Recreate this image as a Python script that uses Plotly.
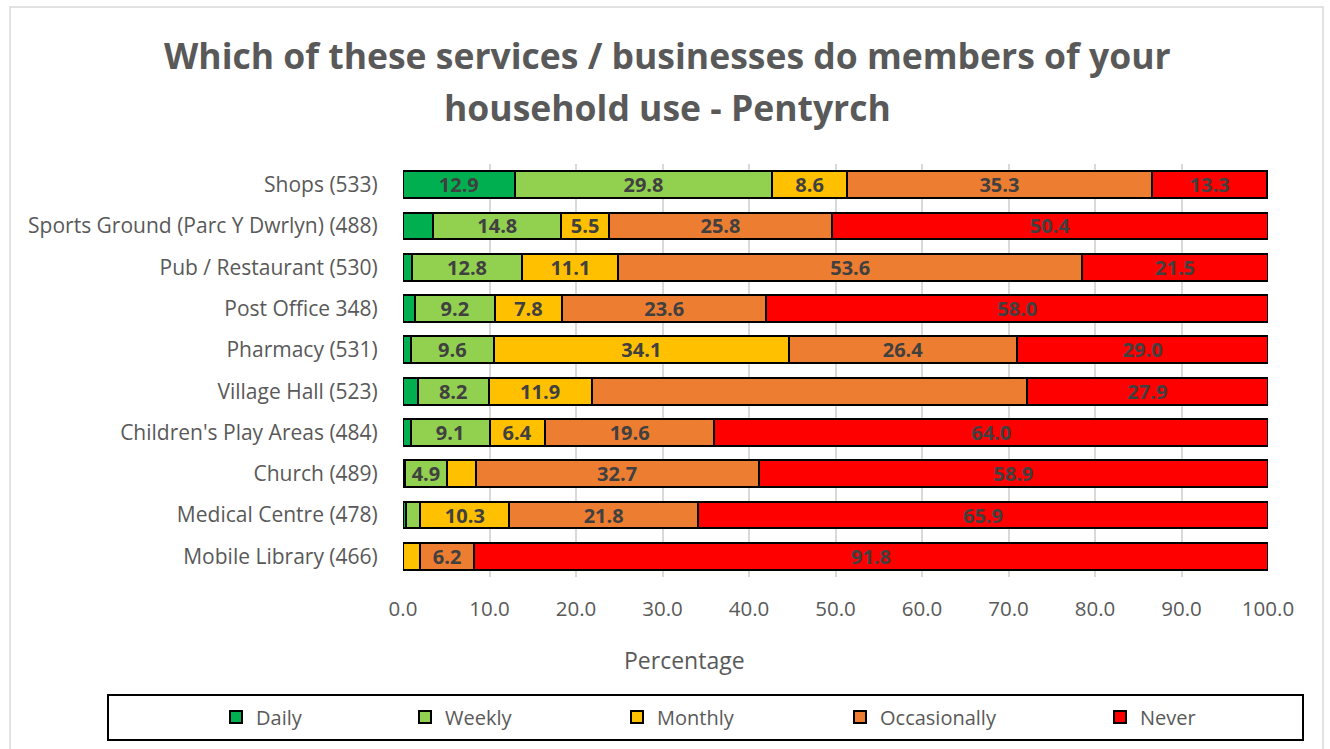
import plotly.graph_objects as go

categories = [
    "Shops (533)",
    "Sports Ground (Parc Y Dwrlyn) (488)",
    "Pub / Restaurant (530)",
    "Post Office 348)",
    "Pharmacy (531)",
    "Village Hall (523)",
    "Children's Play Areas (484)",
    "Church (489)",
    "Medical Centre (478)",
    "Mobile Library (466)",
]
daily = [12.9, 3.5, 1.0, 1.4, 0.9, 1.7, 0.9, 0.2, 0.3, 0.0]
weekly = [29.8, 14.8, 12.8, 9.2, 9.6, 8.2, 9.1, 4.9, 1.7, 0.0]
monthly = [8.6, 5.5, 11.1, 7.8, 34.1, 11.9, 6.4, 3.3, 10.3, 2.0]
occasionally = [35.3, 25.8, 53.6, 23.6, 26.4, 50.3, 19.6, 32.7, 21.8, 6.2]
never = [13.3, 50.4, 21.5, 58.0, 29.0, 27.9, 64.0, 58.9, 65.9, 91.8]

series_names = ["Daily", "Weekly", "Monthly", "Occasionally", "Never"]
series_values = [daily, weekly, monthly, occasionally, never]
colors = ["#00B050", "#92D050", "#FFC000", "#ED7D31", "#FF0000"]
hidden_labels = {("Occasionally", "Village Hall (523)")}
x_ticks = [0, 10, 20, 30, 40, 50, 60, 70, 80, 90, 100]
title_lines = ["Which of these services / businesses do members of your",
               "household use - Pentyrch"]
x_title = "Percentage"

FONT = "Open Sans"
GREY = "#595959"

L, R, T, B = 403, 62, 164, 172
W, H = 1330, 749
pw, ph = W - L - R, H - T - B


def px_x(p):
    return (p - L) / pw


def px_y(p):
    return (H - B - p) / ph


legend_centers = [236, 425, 637, 860, 1120]

fig = go.Figure()
for i, (name, vals, col) in enumerate(zip(series_names, series_values, colors)):
    texts = []
    for c, v in zip(categories, vals):
        if v >= 4.5 and (name, c) not in hidden_labels:
            texts.append(f"{v:.1f}")
        else:
            texts.append("")
    fig.add_trace(go.Bar(
        name=name, y=categories, x=vals, orientation="h",
        marker=dict(color=col, line=dict(color="black", width=2)),
        text=texts, textposition="inside", insidetextanchor="middle",
        constraintext="none",
        textfont=dict(family=FONT, size=20, color="#404040", weight="bold"),
        textangle=0, cliponaxis=False,
        legend="legend" if i == 0 else f"legend{i + 1}",
    ))

legends = {}
for i, cx in enumerate(legend_centers):
    key = "legend" if i == 0 else f"legend{i + 1}"
    legends[key] = dict(
        orientation="h", x=px_x(cx - 20), xanchor="left",
        y=px_y(717), yanchor="middle",
        font=dict(family=FONT, size=20, color=GREY),
        itemclick=False, bgcolor="rgba(0,0,0,0)", borderwidth=0,
    )

fig.update_layout(
    width=W, height=H,
    barmode="stack", bargap=0.35,
    plot_bgcolor="white", paper_bgcolor="white",
    margin=dict(l=L, r=R, t=T, b=B, autoexpand=False),
    xaxis=dict(
        range=[0, 100], tickvals=x_ticks, ticktext=[f"{t:.1f}" for t in x_ticks],
        showgrid=True, gridcolor="#D9D9D9", gridwidth=2, zeroline=False,
        tickfont=dict(family=FONT, size=20.5, color=GREY), ticks="outside", ticklen=13,
        tickcolor="rgba(0,0,0,0)", showline=False,
    ),
    yaxis=dict(
        autorange="reversed", tickfont=dict(family=FONT, size=21, color=GREY),
        ticks="outside", ticklen=20, tickcolor="rgba(0,0,0,0)", showgrid=False,
    ),
    showlegend=True,
    annotations=[
        dict(text=title_lines[0], xref="paper", yref="paper", x=px_x(667), y=px_y(55),
             xanchor="center", yanchor="middle", showarrow=False,
             font=dict(family=FONT, size=35.5, color=GREY, weight="bold")),
        dict(text=title_lines[1], xref="paper", yref="paper", x=px_x(667), y=px_y(107),
             xanchor="center", yanchor="middle", showarrow=False,
             font=dict(family=FONT, size=35.5, color=GREY, weight="bold")),
        dict(text=x_title, xref="paper", yref="paper", x=px_x(684.5), y=px_y(660),
             xanchor="center", yanchor="middle", showarrow=False,
             font=dict(family=FONT, size=23, color=GREY)),
    ],
    shapes=[
        dict(type="rect", xref="paper", yref="paper",
             x0=px_x(108), x1=px_x(1303), y0=px_y(740), y1=px_y(695),
             line=dict(color="black", width=2), fillcolor="rgba(0,0,0,0)", layer="below"),
        dict(type="rect", xref="paper", yref="paper",
             x0=px_x(10), x1=px_x(1323), y0=px_y(770), y1=px_y(7),
             line=dict(color="#D9D9D9", width=1.5), fillcolor="rgba(0,0,0,0)", layer="below"),
    ],
    **legends,
)

fig.write_html("out.html", config={"displayModeBar": False},
               post_script="document.body.style.margin='0';")
